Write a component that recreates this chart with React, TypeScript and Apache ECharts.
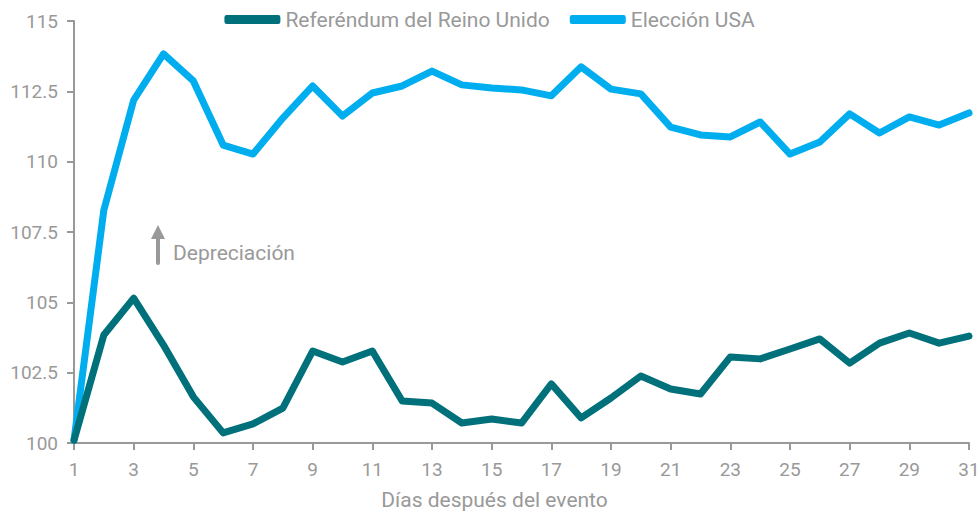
import React, { useEffect, useRef } from "react";
import * as echarts from "echarts";

const days: string[] = Array.from({ length: 31 }, (_, i) => String(i + 1));

const ukSeries: number[] = [
  100.1, 103.84, 105.15, 103.48, 101.64, 100.36, 100.68, 101.24, 103.27, 102.88,
  103.27, 101.49, 101.42, 100.71, 100.85, 100.71, 102.1, 100.89, 101.6, 102.38,
  101.92, 101.74, 103.06, 102.99, 103.34, 103.7, 102.84, 103.55, 103.91, 103.55,
  103.8,
];

const usaSeries: number[] = [
  100.1, 108.28, 112.19, 113.83, 112.87, 110.59, 110.27, 111.55, 112.69, 111.62,
  112.44, 112.69, 113.22, 112.73, 112.62, 112.55, 112.34, 113.37, 112.58, 112.41,
  111.23, 110.95, 110.88, 111.41, 110.27, 110.7, 111.7, 111.02, 111.59, 111.3,
  111.73,
];

const seriesNames: string[] = ["Referéndum del Reino Unido", "Elección USA"];
const xAxisTitle = "Días después del evento";
const annotationText = "Depreciación";

const TEAL = "#00707a";
const BLUE = "#00aeef";
const GRAY = "#999999";
const FONT = "Roboto, 'Noto Sans', sans-serif";

export default function App() {
  const ref = useRef<HTMLDivElement>(null);
  useEffect(() => {
    if (!ref.current) return;
    const chart = echarts.init(ref.current, undefined, { renderer: "svg" });
    chart.setOption({
      animation: false,
      backgroundColor: "#ffffff",
      textStyle: { fontFamily: FONT },
      legend: {
        top: 4,
        left: "center",
        icon: "roundRect",
        itemWidth: 56,
        itemHeight: 9,
        itemGap: 20,
        textStyle: { color: GRAY, fontSize: 21, fontFamily: FONT },
        data: seriesNames,
      },
      grid: {
        left: 74,
        right: 10,
        top: 21,
        bottom: 72,
        containLabel: false,
        outerBoundsMode: "none",
      },
      xAxis: {
        type: "category",
        data: days,
        boundaryGap: false,
        name: xAxisTitle,
        nameLocation: "middle",
        nameGap: 46,
        nameTextStyle: {
          color: GRAY,
          fontSize: 21,
          fontFamily: FONT,
          padding: [0, 54, 0, 0],
        },
        axisLine: { lineStyle: { color: GRAY, width: 2 } },
        axisTick: { interval: 1, length: 7, lineStyle: { color: GRAY, width: 2 } },
        axisLabel: { interval: 1, color: GRAY, fontSize: 19, margin: 17, fontFamily: FONT },
        splitLine: { show: false },
      },
      yAxis: {
        type: "value",
        min: 100,
        max: 115,
        interval: 2.5,
        axisLine: { show: true, lineStyle: { color: GRAY, width: 2 } },
        axisTick: { show: true, length: 7, lineStyle: { color: GRAY, width: 2 } },
        axisLabel: { color: GRAY, fontSize: 19, margin: 16, fontFamily: FONT },
        splitLine: { show: false },
      },
      series: [
        {
          name: seriesNames[0],
          type: "line",
          data: ukSeries,
          showSymbol: false,
          symbol: "none",
          color: TEAL,
          lineStyle: { color: TEAL, width: 7, cap: "round", join: "round" },
          z: 3,
        },
        {
          name: seriesNames[1],
          type: "line",
          data: usaSeries,
          showSymbol: false,
          symbol: "none",
          color: BLUE,
          lineStyle: { color: BLUE, width: 7, cap: "round", join: "round" },
          z: 2,
        },
      ],
      graphic: [
        {
          type: "line",
          shape: { x1: 158, y1: 236, x2: 158, y2: 263 },
          style: { stroke: GRAY, lineWidth: 4, lineCap: "round" },
        },
        {
          type: "polygon",
          shape: { points: [[158, 225], [151, 239], [165, 239]] },
          style: { fill: GRAY },
        },
        {
          type: "text",
          x: 173,
          y: 253,
          style: {
            text: annotationText,
            fill: GRAY,
            fontSize: 21,
            fontFamily: FONT,
            verticalAlign: "middle",
            align: "left",
          },
        },
      ],
    });
    return () => chart.dispose();
  }, []);
  return (
    <div
      ref={ref}
      style={{ position: "fixed", left: 0, top: 0, width: 979, height: 515 }}
    />
  );
}
